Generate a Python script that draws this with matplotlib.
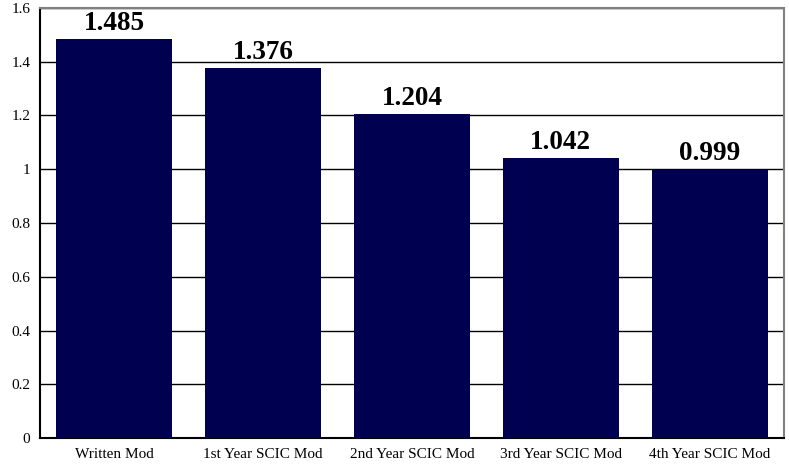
import matplotlib
matplotlib.use("Agg")
import matplotlib.pyplot as plt

categories = ["Written Mod", "1st Year SCIC Mod", "2nd Year SCIC Mod", "3rd Year SCIC Mod", "4th Year SCIC Mod"]
values = [1.485, 1.376, 1.204, 1.042, 0.999]
labels = ["1.485", "1.376", "1.204", "1.042", "0.999"]

plt.rcParams['font.family'] = ['Liberation Serif', 'DejaVu Serif']

fig = plt.figure(figsize=(7.89, 4.65), dpi=100)
ax = fig.add_axes([40/789, 27/465, 744/789, 430/465])

x = range(len(categories))
bars = ax.bar(x, values, width=0.78, color="#000050", zorder=3)
for b, lab in zip(bars, labels):
    ax.text(b.get_x() + b.get_width()/2, b.get_height() + 0.012, lab,
            ha="center", va="bottom", fontsize=19.5, fontweight="bold", color="black")

ax.set_xlim(-0.5, len(categories) - 0.5)
ax.set_ylim(0, 1.6)
ax.set_yticks([0, 0.2, 0.4, 0.6, 0.8, 1.0, 1.2, 1.4, 1.6])
ax.set_yticklabels(["0", "0.2", "0.4", "0.6", "0.8", "1", "1.2", "1.4", "1.6"])
ax.set_xticks(list(x))
ax.set_xticklabels(categories)
ax.tick_params(axis="both", length=0, labelsize=11)
ax.tick_params(axis="y", pad=7)
ax.tick_params(axis="x", pad=7)
ax.yaxis.grid(True, color="black", linewidth=1, zorder=0)
ax.set_axisbelow(True)
ax.spines["left"].set_color("black")
ax.spines["bottom"].set_color("black")
ax.spines["left"].set_linewidth(1.5)
ax.spines["bottom"].set_linewidth(1.5)
ax.spines["top"].set_color("#808080")
ax.spines["right"].set_color("#808080")
ax.spines["top"].set_linewidth(1.5)
ax.spines["right"].set_linewidth(1.5)

fig.savefig("out.png", dpi=100)
